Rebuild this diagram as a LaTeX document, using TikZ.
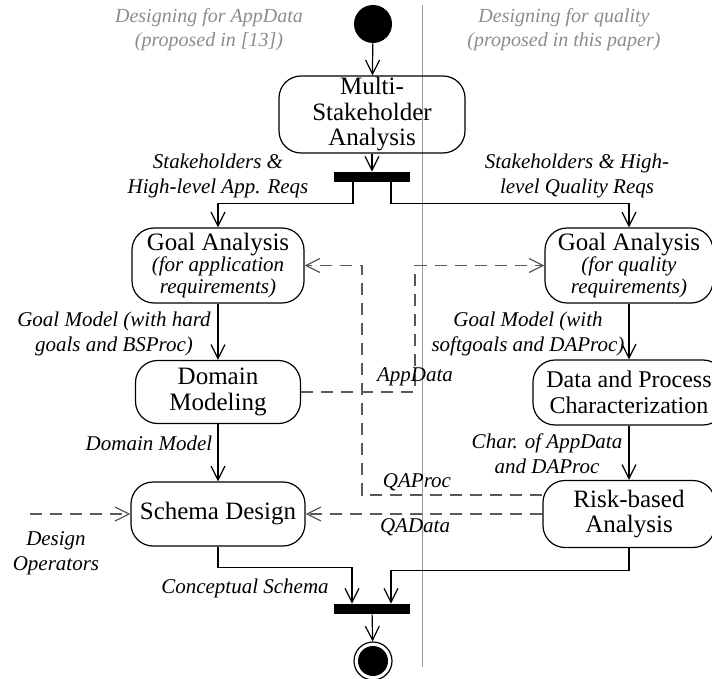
\documentclass[tikz,border=0pt]{standalone}
\usepackage{fontspec}
\setmainfont{Liberation Serif}
\usetikzlibrary{arrows.meta}

\newcommand{\subnote}[1]{{\itshape\fontsize{10.5}{10.5}\selectfont #1}}

\begin{document}
\begin{tikzpicture}[x=0.5pt, y=-0.5pt,
        activity/.style={draw, line width=0.6pt, rounded corners=11pt, align=center,
            inner sep=0pt, font=\fontsize{12.5}{12.75}\selectfont},
        bar/.style={fill=black, minimum width=38pt, minimum height=5pt, inner sep=0pt},
        flow/.style={-{Straight Barb[length=7pt, width=7pt]}, line width=0.6pt},
        dflow/.style={flow, dash pattern=on 6pt off 4pt, black!65},
        lbl/.style={align=center, inner sep=0pt, font=\itshape\fontsize{10.5}{12.5}\selectfont},
        lane/.style={lbl, text=black!45, font=\itshape\fontsize{10}{12}\selectfont}]
        \useasboundingbox (0,0) rectangle (712,679);
        \draw[black!40, line width=0.5pt] (422,5) -- (422,667);

        \node[lane] (lanea) at (209,30) {Designing for AppData\\(proposed in [13])};
        \node[lane] (laneq) at (564,30) {Designing for quality\\(proposed in this paper)};

        \node[circle, fill=black, minimum size=19pt, inner sep=0pt] (initial) at (373,24) {};
        \node[activity, minimum width=93pt, minimum height=38.5pt] (msa) at (372,114.5)
        {Multi-\\Stakeholder\\Analysis};
        \node[bar] (fork) at (372,177) {};
        \node[activity, minimum width=86pt, minimum height=37.5pt] (gaa) at (218,265.5)
        {Goal Analysis\\[-2pt]\subnote{(for application}\\[-2pt]\subnote{requirements)}};
        \node[activity, minimum width=84pt, minimum height=37.5pt] (gaq) at (629,265.5)
        {Goal Analysis\\[-2pt]\subnote{(for quality}\\[-2pt]\subnote{requirements)}};
        \node[activity, minimum width=82.5pt, minimum height=31.5pt] (dm) at (218,392)
        {Domain\\Modeling};
        \node[activity, minimum width=96pt, minimum height=32.5pt,
            font=\fontsize{12}{12.75}\selectfont] (dpc) at (629,392.5)
        {Data and Process\\Characterization};
        \node[activity, minimum width=87pt, minimum height=32pt] (sd) at (218,514)
        {Schema Design};
        \node[activity, minimum width=86pt, minimum height=33.5pt] (rba) at (629,514)
        {Risk-based\\Analysis};
        \node[bar] (join) at (372,609) {};
        \node[circle, draw, line width=0.6pt, minimum size=19pt, inner sep=0pt] (final) at (373,661) {};
        \fill (final) circle (7.5pt);

        \coordinate (ops) at (30,514);
        \coordinate (appbend) at (415,392);
        \coordinate (qabend) at (362,495);

        \draw[flow] (initial) -- (msa);
        \draw[flow] (msa) -- (fork);
        \draw[flow] ([xshift=-9.5pt]fork.south) -- ++(0,21) -| (gaa);
        \draw[flow] ([xshift=9.5pt]fork.south) -- ++(0,21) -| (gaq);
        \draw[flow] (gaa) -- (dm);
        \draw[flow] (dm) -- (sd);
        \draw[flow] (gaq) -- (dpc);
        \draw[flow] (dpc) -- (rba);
        \draw[flow] (sd.south) -- ++(0,21) -| ([xshift=-10pt]join.north);
        \draw[flow] (rba.south) -- ++(0,22) -| ([xshift=9.5pt]join.north);
        \draw[flow] (join) -- (final);

        \draw[dflow] (dm.east) -- (appbend) |- (gaq.west);
        \draw[dflow] ([yshift=9.5pt]rba.west) -- (qabend) |- (gaa.east);
        \draw[dflow] (rba) -- (sd);
        \draw[dflow] (ops) -- (sd);

        \node[lbl] (lblappreq) at (218,176) {Stakeholders \&\\High-level App. Reqs};
        \node[lbl] (lblqreq) at (577,176) {Stakeholders \& High-\\level Quality Reqs};
        \node[lbl] (lblgma) at (114,334) {Goal Model (with hard\\goals and BSProc)};
        \node[lbl] (lblgmq) at (528,334) {Goal Model (with\\softgoals and DAProc)};
        \node[lbl] (lblapp) at (415,377) {AppData};
        \node[lbl] (lbldm) at (149,443) {Domain Model};
        \node[lbl] (lblchar) at (547,454) {Char. of AppData\\and DAProc};
        \node[lbl] (lblqap) at (417,482) {QAProc};
        \node[lbl] (lblqad) at (415,527) {QAData};
        \node[lbl] (lblops) at (56,553) {Design\\Operators};
        \node[lbl] (lblcs) at (245,588) {Conceptual Schema};
\end{tikzpicture}
\end{document}
